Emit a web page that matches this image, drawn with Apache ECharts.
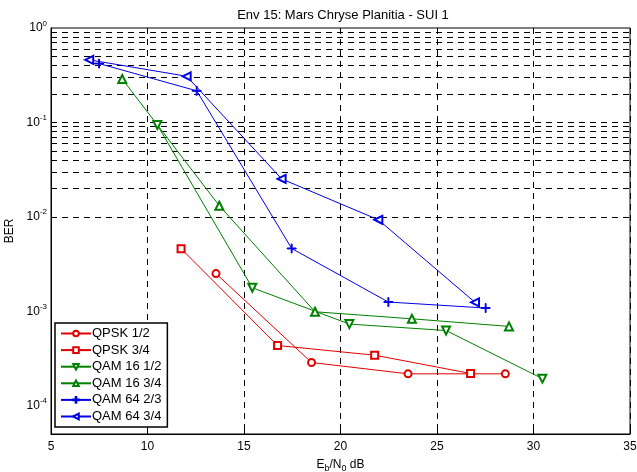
<!DOCTYPE html>
<html>
<head>
<meta charset="utf-8">
<script src="https://cdn.jsdelivr.net/npm/echarts@6/dist/echarts.min.js"></script>
<style>html,body{margin:0;padding:0;background:#fff}#c{width:637px;height:472px}</style>
</head>
<body>
<div id="c"></div>
<script>
// ---- data ----
const seriesNames = ['QPSK 1/2', 'QPSK 3/4', 'QAM 16 1/2', 'QAM 16 3/4', 'QAM 64 2/3', 'QAM 64 3/4'];
const qpsk12_x = [13.55, 18.5, 23.5, 28.54];
const qpsk12_y = [2.5e-3, 2.86e-4, 2.17e-4, 2.17e-4];
const qpsk34_x = [11.74, 16.74, 21.77, 26.74];
const qpsk34_y = [4.6e-3, 4.33e-4, 3.42e-4, 2.19e-4];
const qam16_12_x = [10.51, 15.43, 20.46, 25.47, 30.46];
const qam16_12_y = [0.094, 1.77e-3, 7.3e-4, 6.24e-4, 1.93e-4];
const qam16_34_x = [8.69, 13.72, 18.68, 23.7, 28.73];
const qam16_34_y = [0.288, 0.0131, 9.86e-4, 8.3e-4, 6.9e-4];
const qam64_23_x = [7.49, 12.55, 17.47, 22.48, 27.52];
const qam64_23_y = [0.42, 0.216, 4.62e-3, 1.25e-3, 1.08e-3];
const qam64_34_x = [6.98, 12.03, 16.95, 21.96, 26.97];
const qam64_34_y = [0.46, 0.308, 0.0252, 9.3e-3, 1.24e-3];
const xTicks = [5, 10, 15, 20, 25, 30, 35];
const yMin = 5e-5, yMax = 1;

const pairs = (xs, ys) => xs.map((x, i) => [x, ys[i]]);
const RED = '#e00000', GREEN = '#008000', BLUE = '#0000e6';

// horizontal grid lines at k*10^n
const hLines = [];
for (let n = -5; n <= 0; n++) {
  for (let k = 1; k <= 9; k++) {
    const v = k * Math.pow(10, n);
    if (v > yMin * 1.0001 && v < yMax * 0.9999) hLines.push({ yAxis: v });
  }
}

const plusPath = 'path://M-0.5,-5 L0.5,-5 L0.5,-0.5 L5,-0.5 L5,0.5 L0.5,0.5 L0.5,5 L-0.5,5 L-0.5,0.5 L-5,0.5 L-5,-0.5 L-0.5,-0.5 Z';

function mk(name, data, color, symbol, size, rotate, extra) {
  return Object.assign({
    name: name, type: 'line', data: data,
    symbol: symbol, symbolSize: size, symbolRotate: rotate || 0,
    showAllSymbol: true,
    lineStyle: { color: color, width: 1 },
    itemStyle: { color: color, borderColor: color, borderWidth: 1 },
    emphasis: { disabled: true },
    z: 5
  }, extra || {});
}

const FONT = 'Liberation Sans, Arial';
const chart = echarts.init(document.getElementById('c'), null, { renderer: 'canvas' });
chart.setOption({
  animation: false,
  backgroundColor: '#fff',
  title: {
    text: 'Env 15: Mars Chryse Planitia - SUI 1',
    left: 338, top: 4, textAlign: 'center',
    textStyle: { fontFamily: FONT, fontSize: 13, fontWeight: 'normal', color: '#000' }
  },
  grid: { left: 51, right: 7, top: 28, bottom: 38, containLabel: false, outerBoundsMode: 'none',
          show: true, borderColor: '#000', borderWidth: 1, backgroundColor: 'transparent' },
  legend: {
    orient: 'vertical', left: 55, top: 323,
    data: seriesNames,
    itemWidth: 30, itemHeight: 7, itemGap: 3.6,
    padding: [4, 6, 4, 5],
    borderColor: '#000', borderWidth: 1.5, backgroundColor: '#fff',
    textStyle: { fontFamily: FONT, fontSize: 13, color: '#000', padding: [0, 0, 0, -4] },
    selectedMode: false, z: 10
  },
  xAxis: {
    type: 'value', min: 5, max: 35, interval: 5,
    axisLine: { show: true, lineStyle: { color: '#000' } },
    axisTick: { show: true, inside: true, length: 4, lineStyle: { color: '#000' } },
    axisLabel: { color: '#000', fontFamily: FONT, fontSize: 12, margin: 7 },
    splitLine: { show: true, lineStyle: { color: '#000', type: [6, 5], width: 1 } },
    name: '{n|E}{s|b}{n|/N}{s|0}{n| dB}',
    nameLocation: 'middle', nameGap: 23,
    nameTextStyle: {
      rich: {
        n: { fontFamily: FONT, fontSize: 12, color: '#000' },
        s: { fontFamily: FONT, fontSize: 9, color: '#000', padding: [7, 0, 0, 0] }
      }
    }
  },
  yAxis: {
    type: 'log', min: yMin, max: yMax, logBase: 10,
    axisLine: { show: true, lineStyle: { color: '#000' } },
    axisTick: { show: false },
    splitLine: { show: false },
    axisLabel: {
      color: '#000', margin: 4,
      formatter: function (v) {
        const e = Math.log10(v);
        const r = Math.round(e);
        if (Math.abs(e - r) > 1e-6) return '';
        return '{b|10}{s|' + r + '}';
      },
      rich: {
        b: { fontFamily: FONT, fontSize: 12, color: '#000' },
        s: { fontFamily: FONT, fontSize: 8, color: '#000', padding: [0, 0, 9, 0] }
      }
    },
    name: 'BER', nameLocation: 'middle', nameGap: 33, nameRotate: 90,
    nameTextStyle: { fontFamily: FONT, fontSize: 12, color: '#000' }
  },
  series: [
    mk(seriesNames[0], pairs(qpsk12_x, qpsk12_y), RED, 'emptyCircle', 7, 0, {
      markLine: {
        silent: true, symbol: 'none', label: { show: false },
        lineStyle: { color: '#000', type: [6, 5], width: 1 },
        data: hLines, z: 1
      }
    }),
    mk(seriesNames[1], pairs(qpsk34_x, qpsk34_y), RED, 'emptyRect', 7),
    mk(seriesNames[2], pairs(qam16_12_x, qam16_12_y), GREEN, 'emptyTriangle', 8, 180),
    mk(seriesNames[3], pairs(qam16_34_x, qam16_34_y), GREEN, 'emptyTriangle', 8, 0),
    mk(seriesNames[4], pairs(qam64_23_x, qam64_23_y), BLUE, plusPath, 9, 0),
    mk(seriesNames[5], pairs(qam64_34_x, qam64_34_y), BLUE, 'emptyTriangle', 8, 90)
  ]
});
</script>
</body>
</html>
